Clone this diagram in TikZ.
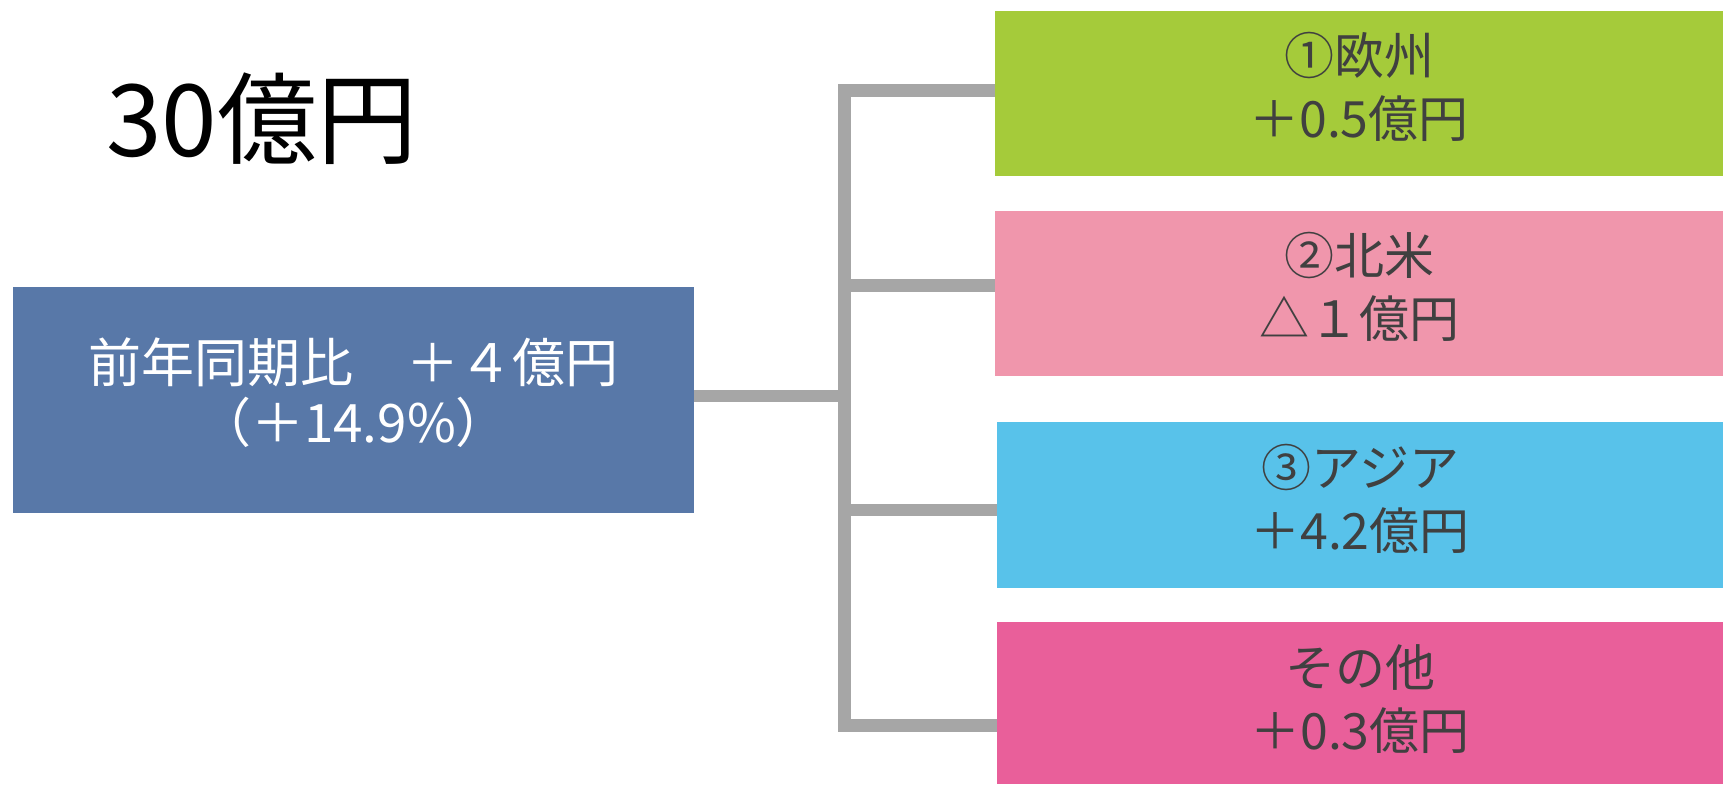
\documentclass[tikz,border=0pt]{standalone}
\usepackage{fontspec}
\newfontfamily\jp{Noto Sans CJK JP}
\definecolor{conngray}{HTML}{A6A6A6}
\definecolor{mainblue}{HTML}{5878A8}
\definecolor{eugreen}{HTML}{A5CB3A}
\definecolor{napink}{HTML}{F096AC}
\definecolor{asiacyan}{HTML}{58C2EA}
\definecolor{othmag}{HTML}{E95F9A}
\definecolor{txtdark}{HTML}{404040}
\tikzset{
  box/.style={draw=none, inner sep=0pt, outer sep=0pt},
  conn/.style={draw=conngray, line width=12.5pt, line join=miter, line cap=butt},
  rtxt/.style={font=\jp\fontsize{50}{63}\selectfont, text=txtdark, align=center, inner sep=0pt},
  mtxt/.style={font=\jp\fontsize{53}{60}\selectfont, text=white, align=center, inner sep=0pt}
}
\begin{document}
\begin{tikzpicture}[x=1pt,y=-1pt]
\useasboundingbox (0,0) rectangle (1723,784);
% title
\node[font=\jp\fontsize{100}{110}\selectfont, anchor=base west, inner sep=0pt] (title) at (106,156) {30億円};
% main box
\node[box, fill=mainblue, minimum width=681pt, minimum height=226pt] (main) at (353.5,400) {};
\node[mtxt] (maintxt) at ([yshift=7pt]main.center) {前年同期比　＋４億円\\（＋14.9\%）};
% right boxes
\node[box, fill=eugreen, minimum width=728pt, minimum height=165pt] (eu) at (1359,93.5) {};
\node[box, fill=napink, minimum width=728pt, minimum height=165pt] (na) at (1359,293.5) {};
\node[box, fill=asiacyan, minimum width=726pt, minimum height=166pt] (as) at (1360,505) {};
\node[box, fill=othmag, minimum width=726pt, minimum height=162pt] (ot) at (1360,703) {};
\node[rtxt] (eutxt) at ([yshift=7pt]eu.center) {①欧州\\＋0.5億円};
\node[rtxt] (natxt) at ([yshift=7pt]na.center) {②北米\\△１億円};
\node[rtxt] (astxt) at ([yshift=6pt]as.center) {③アジア\\＋4.2億円};
\node[rtxt] (ottxt) at ([yshift=4pt]ot.center) {その他\\＋0.3億円};
% connectors
\coordinate (bustop) at (844.5,90.5);
\coordinate (busbot) at (844.5,725.5);
\coordinate (jmain) at (844.5,396);
\coordinate (jna) at (844.5,285.5);
\coordinate (jas) at (844.5,510);
\draw[conn] (eu.west |- bustop) -- (bustop) -- (busbot) -- (ot.west |- busbot);
\draw[conn] (main.east |- jmain) -- ([xshift=6pt]jmain);
\draw[conn] ([xshift=-6pt]jna) -- (na.west |- jna);
\draw[conn] ([xshift=-6pt]jas) -- (as.west |- jas);
\end{tikzpicture}
\end{document}
